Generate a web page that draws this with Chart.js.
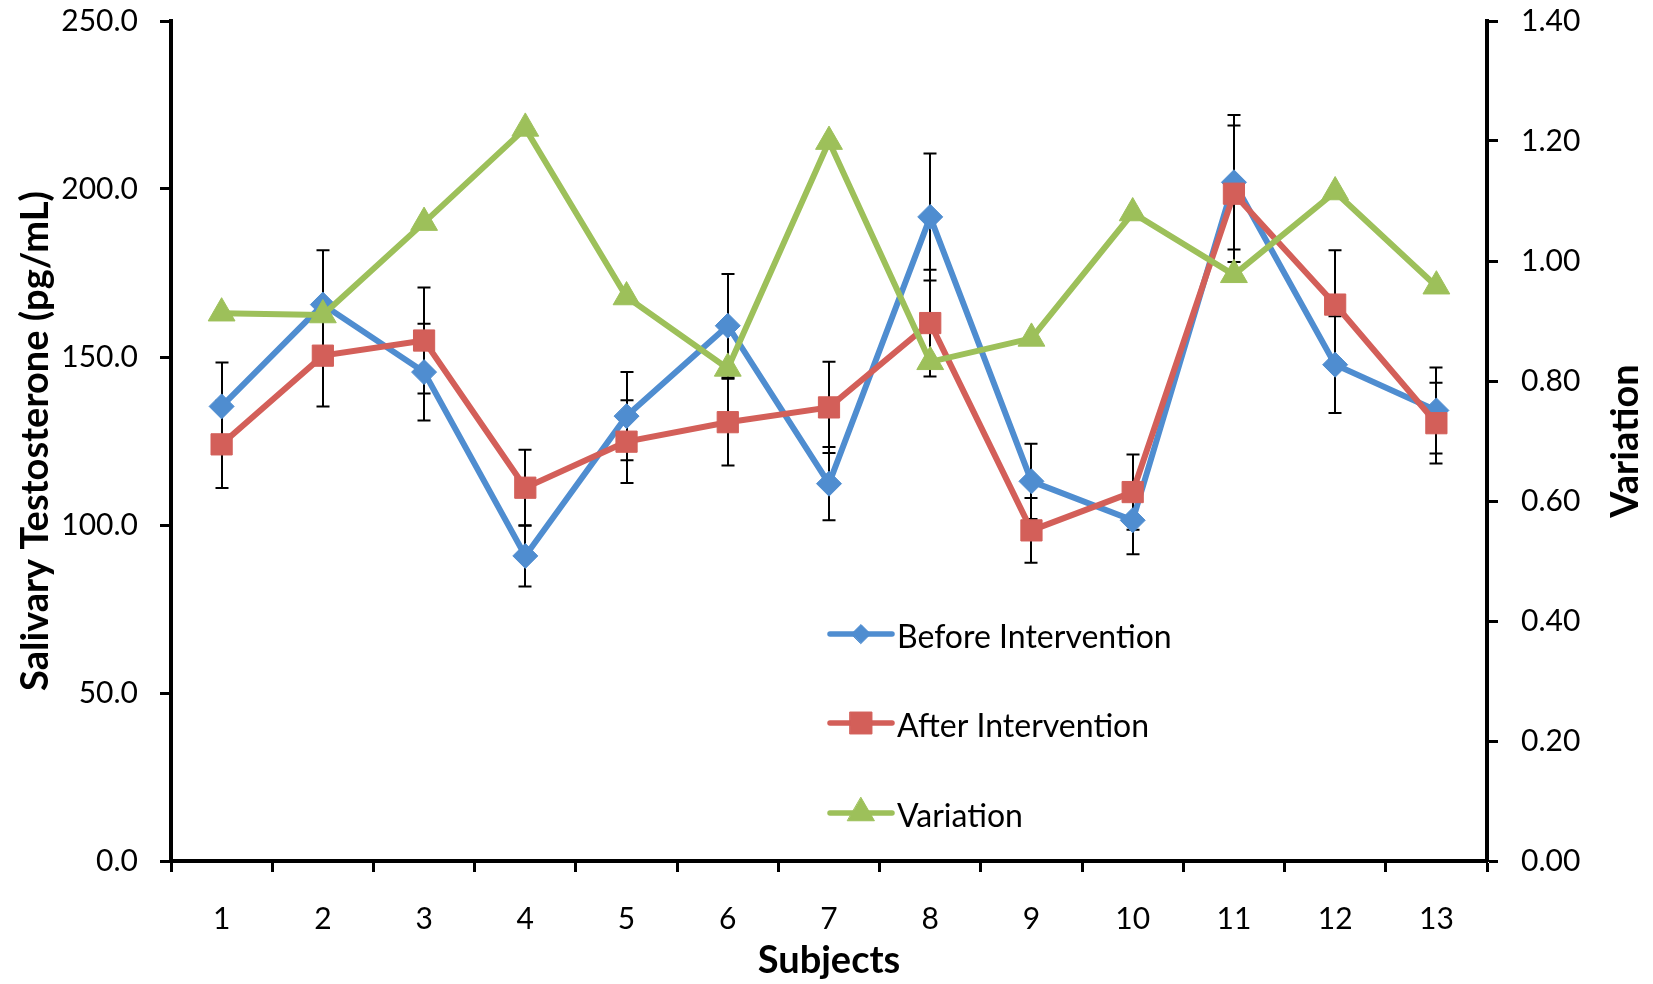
<!DOCTYPE html>
<html>
<head>
<meta charset="utf-8">
<title>Salivary Testosterone</title>
<script src="https://cdn.jsdelivr.net/npm/chart.js@4/dist/chart.umd.min.js"></script>
<style>
  html, body { margin: 0; padding: 0; background: #ffffff; }
  #wrap { width: 1653px; height: 984px; }
</style>
</head>
<body>
<div id="wrap"><canvas id="chart" width="1653" height="984"></canvas></div>
<script>
// Subjects on the x axis
const subjects = ['1', '2', '3', '4', '5', '6', '7', '8', '9', '10', '11', '12', '13'];

// Salivary testosterone (pg/mL) per subject
const beforeValues = [135.3, 165.6, 145.5, 90.8, 132.4, 159.3, 112.3, 191.7, 113.0, 101.4, 202.0, 147.7, 134.1];
const afterValues  = [124.0, 150.4, 154.9, 111.1, 124.8, 130.6, 135.0, 160.1, 98.4, 109.8, 198.6, 165.6, 130.3];

// Error bar half-lengths (pg/mL)
const beforeErrors = [13.1, 16.2, 14.4, 9.1, 13.1, 15.4, 10.9, 18.9, 11.2, 10.1, 20.0, 14.4, 12.8];
const afterErrors  = [13.0, 15.1, 15.8, 11.3, 12.3, 12.9, 13.6, 15.9, 9.6, 11.2, 20.3, 16.2, 12.0];

// Variation (secondary axis)
const variationValues = [0.913, 0.910, 1.064, 1.221, 0.940, 0.821, 1.199, 0.832, 0.871, 1.080, 0.977, 1.115, 0.958];

// Axis ranges
const leftAxis = { min: 0, max: 250, step: 50 };
const rightAxis = { min: 0, max: 1.4, step: 0.2 };

const BLUE = '#4F8DD0';
const RED = '#D35F59';
const GREEN = '#9DC05A';
const FONT = 'Lato';

// Vertical error bars with caps, drawn beneath the series lines
const errorBars = {
  id: 'errorBars',
  beforeDatasetsDraw(chart) {
    const { ctx, scales: { x, y } } = chart;
    ctx.save();
    ctx.strokeStyle = '#000';
    ctx.lineWidth = 2;
    const cap = 6.5;
    [[beforeValues, beforeErrors], [afterValues, afterErrors]].forEach(([vals, errs]) => {
      vals.forEach((v, i) => {
        const px = Math.round(x.getPixelForValue(i));
        const top = y.getPixelForValue(v + errs[i]);
        const bot = y.getPixelForValue(v - errs[i]);
        ctx.beginPath();
        ctx.moveTo(px, top); ctx.lineTo(px, bot);
        ctx.moveTo(px - cap, top); ctx.lineTo(px + cap, top);
        ctx.moveTo(px - cap, bot); ctx.lineTo(px + cap, bot);
        ctx.stroke();
      });
    });
    ctx.restore();
  }
};

// Legend placed inside the plot area, one entry per row
const innerLegend = {
  id: 'innerLegend',
  afterDraw(chart) {
    const { ctx } = chart;
    const rows = [634, 723, 813];
    const lineStart = 830, lineEnd = 892, textX = 897;
    ctx.save();
    [0, 1, 2].forEach((di, r) => {
      const ds = chart.data.datasets[di];
      const y = rows[r];
      ctx.strokeStyle = ds.borderColor;
      ctx.lineWidth = 5.5;
      ctx.lineCap = 'round';
      ctx.beginPath();
      ctx.moveTo(lineStart, y);
      ctx.lineTo(lineEnd, y);
      ctx.stroke();
      ctx.fillStyle = ds.borderColor;
      ctx.strokeStyle = ds.borderColor;
      ctx.lineWidth = 1;
      Chart.helpers.drawPoint(ctx, {
        pointStyle: ds.pointStyle,
        radius: ds.legendRadius,
        rotation: 0,
        borderWidth: 1
      }, (lineStart + lineEnd) / 2, y);
      ctx.fillStyle = '#000';
      ctx.font = '32px ' + FONT;
      ctx.textAlign = 'left';
      ctx.textBaseline = 'alphabetic';
      ctx.fillText(ds.label, textX, y + 13.5);
    });
    ctx.restore();
  }
};

// Title of the secondary axis, reading bottom to top
const rightTitle = {
  id: 'rightTitle',
  afterDraw(chart) {
    const { ctx, chartArea } = chart;
    ctx.save();
    ctx.translate(chart.width - 27, (chartArea.top + chartArea.bottom) / 2);
    ctx.rotate(-Math.PI / 2);
    ctx.fillStyle = '#000';
    ctx.font = 'bold 38px ' + FONT;
    ctx.textAlign = 'center';
    ctx.textBaseline = 'middle';
    ctx.fillText('Variation', 0, 0);
    ctx.restore();
  }
};

const tickFont = { family: FONT, size: 30 };
const titleFont = { family: FONT, size: 38, weight: 'bold' };

// Fixed plot-area bounds for the vertical axes
function fixVertical(width) {
  return (scale) => {
    scale.width = width;
    scale.paddingTop = 0;
    scale.paddingBottom = 0;
  };
}

new Chart(document.getElementById('chart'), {
  type: 'line',
  data: {
    labels: subjects,
    datasets: [
      {
        label: 'Before Intervention',
        data: beforeValues,
        yAxisID: 'y',
        borderColor: BLUE,
        backgroundColor: BLUE,
        borderWidth: 6,
        pointStyle: 'rectRot',
        pointRadius: 12.5,
        pointHoverRadius: 12.5,
        pointBorderWidth: 1,
        legendRadius: 9.5,
        tension: 0,
        order: 3
      },
      {
        label: 'After Intervention',
        data: afterValues,
        yAxisID: 'y',
        borderColor: RED,
        backgroundColor: RED,
        borderWidth: 6,
        pointStyle: 'rect',
        pointRadius: 15,
        pointHoverRadius: 15,
        pointBorderWidth: 1,
        legendRadius: 15.5,
        tension: 0,
        order: 2
      },
      {
        label: 'Variation',
        data: variationValues,
        yAxisID: 'y1',
        borderColor: GREEN,
        backgroundColor: GREEN,
        borderWidth: 6,
        pointStyle: 'triangle',
        pointRadius: 15.5,
        pointHoverRadius: 15.5,
        pointBorderWidth: 1,
        legendRadius: 15.5,
        tension: 0,
        order: 1
      }
    ]
  },
  options: {
    responsive: false,
    animation: false,
    devicePixelRatio: 1,
    layout: { padding: { top: 21, left: 0, right: 0, bottom: 0 } },
    plugins: {
      legend: { display: false },
      tooltip: { enabled: false }
    },
    scales: {
      x: {
        type: 'category',
        offset: true,
        grid: {
          offset: true,
          drawOnChartArea: false,
          drawTicks: true,
          tickLength: 11,
          tickWidth: 3,
          tickColor: '#000'
        },
        border: { display: true, color: '#000', width: 4 },
        ticks: { font: tickFont, color: '#000', padding: 29, maxRotation: 0, autoSkip: false },
        title: { display: true, text: 'Subjects', font: titleFont, color: '#000', padding: { top: 0, bottom: 0 } },
        afterFit(scale) {
          scale.height = 984 - 861;
          scale.paddingLeft = 0;
          scale.paddingRight = 0;
        }
      },
      y: {
        position: 'left',
        min: leftAxis.min,
        max: leftAxis.max,
        grid: {
          drawOnChartArea: false,
          drawTicks: true,
          tickLength: 11,
          tickWidth: 3,
          tickColor: '#000'
        },
        border: { display: true, color: '#000', width: 4 },
        ticks: {
          stepSize: leftAxis.step,
          font: tickFont,
          color: '#000',
          padding: 22,
          callback: (v) => Number(v).toFixed(1)
        },
        title: { display: true, text: 'Salivary Testosterone (pg/mL)', font: titleFont, color: '#000', padding: { top: 13, bottom: 13 } },
        afterFit: fixVertical(171)
      },
      y1: {
        position: 'right',
        min: rightAxis.min,
        max: rightAxis.max,
        grid: {
          drawOnChartArea: false,
          drawTicks: true,
          tickLength: 11,
          tickWidth: 3,
          tickColor: '#000'
        },
        border: { display: true, color: '#000', width: 4 },
        ticks: {
          stepSize: rightAxis.step,
          font: tickFont,
          color: '#000',
          padding: 23,
          callback: (v) => Number(v).toFixed(2)
        },
        afterFit: fixVertical(1653 - 1487)
      }
    }
  },
  plugins: [errorBars, innerLegend, rightTitle]
});
</script>
</body>
</html>
